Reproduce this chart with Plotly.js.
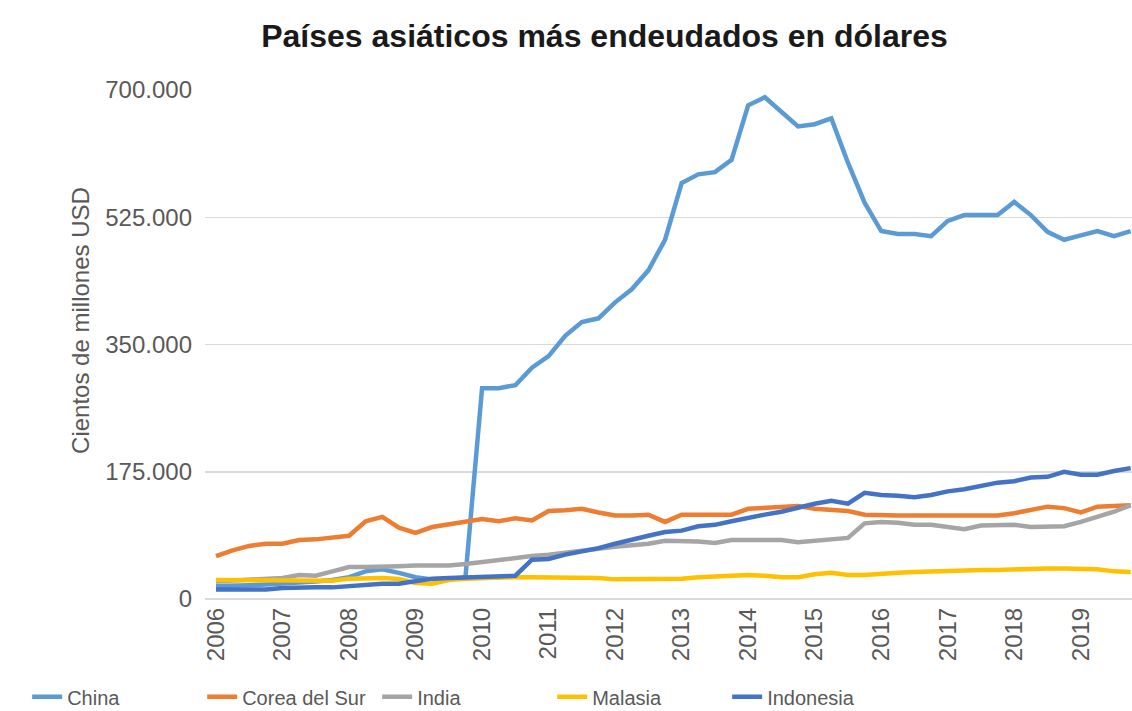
<!DOCTYPE html>
<html>
<head>
<meta charset="utf-8">
<script src="https://cdn.plot.ly/plotly-3.0.1.min.js"></script>
<style>
html,body{margin:0;padding:0;background:#fff;}
#chart{width:1132px;height:711px;}
</style>
</head>
<body>
<div id="chart"></div>
<script>
// Quarterly categories 2006T1 .. 2019T4
const quarters = [
 "2006T1","2006T2","2006T3","2006T4","2007T1","2007T2","2007T3","2007T4",
 "2008T1","2008T2","2008T3","2008T4","2009T1","2009T2","2009T3","2009T4",
 "2010T1","2010T2","2010T3","2010T4","2011T1","2011T2","2011T3","2011T4",
 "2012T1","2012T2","2012T3","2012T4","2013T1","2013T2","2013T3","2013T4",
 "2014T1","2014T2","2014T3","2014T4","2015T1","2015T2","2015T3","2015T4",
 "2016T1","2016T2","2016T3","2016T4","2017T1","2017T2","2017T3","2017T4",
 "2018T1","2018T2","2018T3","2018T4","2019T1","2019T2","2019T3","2019T4"
];
const yearTickCats = ["2006T1","2007T1","2008T1","2009T1","2010T1","2011T1","2012T1","2013T1","2014T1","2015T1","2016T1","2017T1","2018T1","2019T1"];
const yearLabels = ["2006","2007","2008","2009","2010","2011","2012","2013","2014","2015","2016","2017","2018","2019"];

const china = [18000,18000,19000,20000,21000,22000,24000,26000,30000,38000,41000,36000,30000,27000,27000,30000,
 290000,290000,294000,318000,334000,362000,381000,386000,408000,426000,452000,494000,572000,584000,587000,604000,
 679000,690000,670000,650000,653000,661000,600000,545000,506000,502000,502000,499000,520000,528000,528000,528000,
 546000,528000,505000,494000,500000,506000,499000,506000];
const corea = [59000,67000,73000,76000,76000,81000,82000,84000,87000,107000,113000,98000,91000,99000,103000,106000,
 110000,107000,111000,108000,121000,122000,124000,119000,115000,115000,116000,106000,116000,116000,116000,116000,
 124000,125000,126000,128000,124000,122000,121000,116000,115000,115000,115000,115000,115000,115000,115000,115000,
 118000,123000,127000,125000,119000,127000,128000,129000];
const india = [24000,25000,26000,27000,29000,33000,32000,38000,44000,44000,44000,45000,46000,46000,46000,48000,
 51000,54000,57000,59000,61000,64000,67000,69000,72000,74000,76000,80000,80000,79000,77000,81000,
 81000,81000,81000,78000,80000,82000,84000,104000,106000,105000,102000,102000,99000,96000,101000,102000,
 102000,99000,99000,100000,106000,113000,120000,129000];
const malasia = [26000,26000,26000,26000,26000,25000,25000,25000,28000,29000,29000,27500,22000,21000,26000,28000,
 29000,30000,30000,30000,30000,30000,30000,29000,27000,27000,27000,27000,28000,30000,31000,33000,
 33000,32000,30000,30000,34000,36000,33000,33000,35000,36000,37000,38000,38000,39000,40000,40000,
 41000,42000,42000,42000,42000,41000,38000,37000];
const indonesia = [13000,13000,13000,13000,15000,16000,16000,16000,18000,20000,21000,21000,25000,28000,29000,30000,
 31000,32000,32000,54000,55000,61000,65000,70000,76000,82000,87000,92000,94000,100000,102000,107000,
 112000,116000,120000,126000,131000,135000,131000,146000,143000,142000,140000,143000,148000,151000,156000,160000,
 162000,167000,168000,175000,171000,171000,176000,180000];

const yTicks = [0,175000,350000,525000,700000];

const seriesNames = ["China","Corea del Sur","India","Malasia","Indonesia"];
const seriesData = [china, corea, india, malasia, indonesia];
const seriesColors = ["#5B9BD5","#ED7D31","#A5A5A5","#FFC000","#4472C4"];

const traces = seriesNames.map((n,k)=>({
  type:'scatter', mode:'lines', name:n, x:quarters, y:seriesData[k],
  line:{color:seriesColors[k], width:4.5, shape:'linear'},
  hoverinfo:'x+y+name'
}));

const font = "Liberation Sans, Arial, sans-serif";
const layout = {
  width:1132, height:711,
  paper_bgcolor:'#ffffff', plot_bgcolor:'#ffffff',
  separators:',.',
  margin:{l:205, r:0, t:90, b:112, pad:0},
  title:{text:'<b>Países asiáticos más endeudados en dólares</b>', font:{family:font, size:32, color:'#1a1a1a'},
         x:0.534, xanchor:'center', y:0.95, yanchor:'middle', xref:'container', yref:'container'},
  xaxis:{type:'category', categoryorder:'array', categoryarray:quarters,
         range:[-0.66, 55.08], tickmode:'array', tickvals:yearTickCats, ticktext:yearLabels,
         tickangle:-90, showgrid:false, zeroline:false, showline:false, ticks:'', ticklabelstandoff:3,
         tickfont:{family:font, size:24, color:'#595959'}, fixedrange:true},
  yaxis:{range:[0,700000], tickmode:'array', tickvals:yTicks, tickformat:',d',
         showgrid:true, gridcolor:'#D9D9D9', gridwidth:1.5, zeroline:true, zerolinecolor:'#D9D9D9', zerolinewidth:1.5,
         showline:false, ticks:'', ticklabelstandoff:12,
         tickfont:{family:font, size:24, color:'#595959'},
         automargin:false, fixedrange:true},
  annotations:[{text:'Cientos de millones USD', xref:'paper', yref:'paper', x:-0.135, y:0.548,
                xanchor:'center', yanchor:'middle', textangle:-90, showarrow:false,
                font:{family:font, size:24, color:'#595959'}}],
  showlegend:true,
  legend:{orientation:'h', xref:'container', yref:'container', x:0.024, y:0.02, xanchor:'left', yanchor:'middle',
          font:{family:font, size:20, color:'#595959'}, entrywidthmode:'pixels', entrywidth:130,
          bgcolor:'rgba(0,0,0,0)', traceorder:'normal'}
};

Plotly.newPlot('chart', traces, layout, {displayModeBar:false, staticPlot:true});
</script>
</body>
</html>
